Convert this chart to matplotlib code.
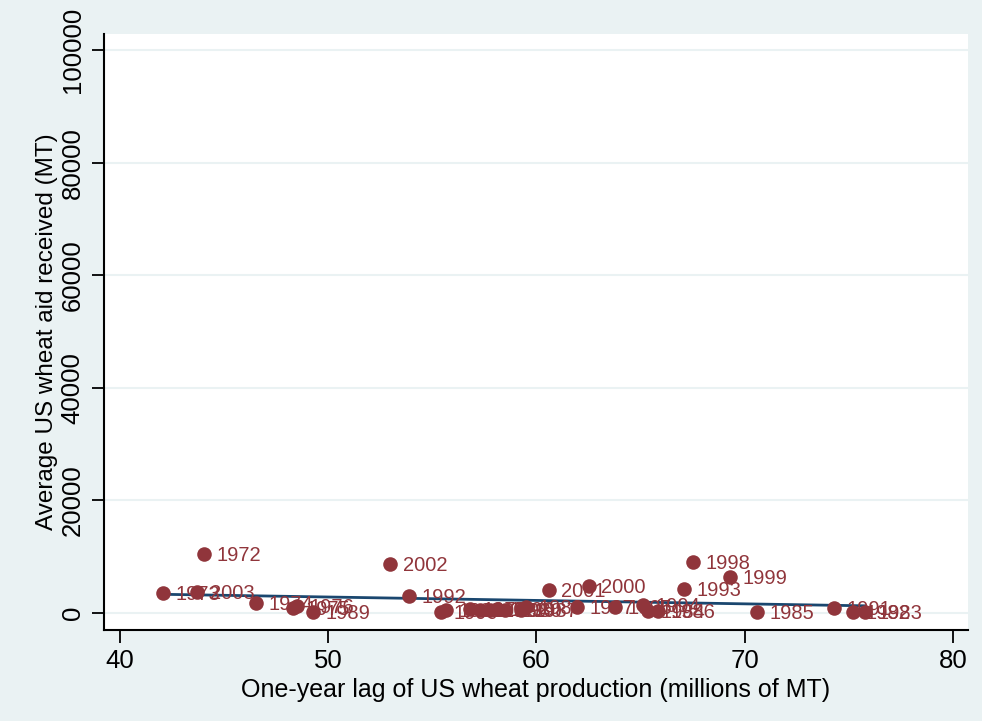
import numpy as np
import matplotlib.pyplot as plt

plt.rcParams['font.family'] = ['Liberation Sans', 'DejaVu Sans']

years = [1972, 1973, 1974, 1975, 1976, 1977, 1978, 1979, 1980, 1981,
         1982, 1983, 1984, 1985, 1986, 1987, 1988, 1989, 1990, 1991,
         1992, 1993, 1994, 1995, 1996, 1997, 1998, 1999, 2000, 2001,
         2002, 2003]
# one-year lag of US wheat production (millions of MT)
prod_lag = [44.03, 42.06, 46.53, 48.31, 48.50, 56.81, 57.29, 57.77, 58.49, 55.65,
            75.20, 75.77, 65.35, 70.59, 65.83, 59.26, 59.50, 49.27, 55.41, 74.29,
            53.88, 67.08, 65.11, 63.77, 58.10, 61.95, 67.52, 69.29, 62.52, 60.60,
            52.97, 43.70]
# average US wheat aid received (MT)
aid = [10480, 3552, 1776, 888, 1243, 710, 533, 533, 533, 533,
       178, 178, 355, 178, 355, 533, 1066, 178, 178, 888,
       3019, 4262, 1421, 1066, 710, 1066, 9058, 6394, 4795, 4085,
       8702, 3730]

x_ticks = [40, 50, 60, 70, 80]
y_ticks = [0, 20000, 40000, 60000, 80000, 100000]

bg = '#EAF2F3'
maroon = '#90353B'
navy = '#1A476F'

fig = plt.figure(figsize=(9.82, 7.21), dpi=100, facecolor=bg)
ax = fig.add_axes([0.1059, 0.1262, 0.8798, 0.8266])
ax.set_facecolor('white')

x = np.array(prod_lag)
y = np.array(aid)

for t in y_ticks:
    ax.axhline(t, color=bg, lw=1.5, zorder=0)

ax.scatter(x, y, s=110, color=maroon, zorder=3, linewidths=0)
for xi, yi, yr in zip(x, y, years):
    ax.annotate(str(yr), (xi, yi), xytext=(9, -1), textcoords='offset points',
                va='center', ha='left', fontsize=14.5, color=maroon, zorder=4)

b, a = np.polyfit(x, y, 1)
xs = np.array([x.min(), x.max()])
ax.plot(xs, a + b * xs, color=navy, lw=2, zorder=2)

ax.set_xlim(39.23, 80.72)
ax.set_ylim(-3020, 102840)
ax.set_xticks(x_ticks)
ax.set_yticks(y_ticks)
ax.set_yticklabels([str(t) for t in y_ticks], rotation=90, va='center')
ax.tick_params(direction='out', length=9, width=1.3, labelsize=18.5, pad=5)

for s in ['top', 'right']:
    ax.spines[s].set_visible(False)
for s in ['left', 'bottom']:
    ax.spines[s].set_linewidth(1.5)

ax.set_xlabel('One-year lag of US wheat production (millions of MT)', fontsize=18, labelpad=3)
ax.set_ylabel('Average US wheat aid received (MT)', fontsize=17.5, labelpad=2)

fig.savefig('out.png', dpi=100, facecolor=bg)
